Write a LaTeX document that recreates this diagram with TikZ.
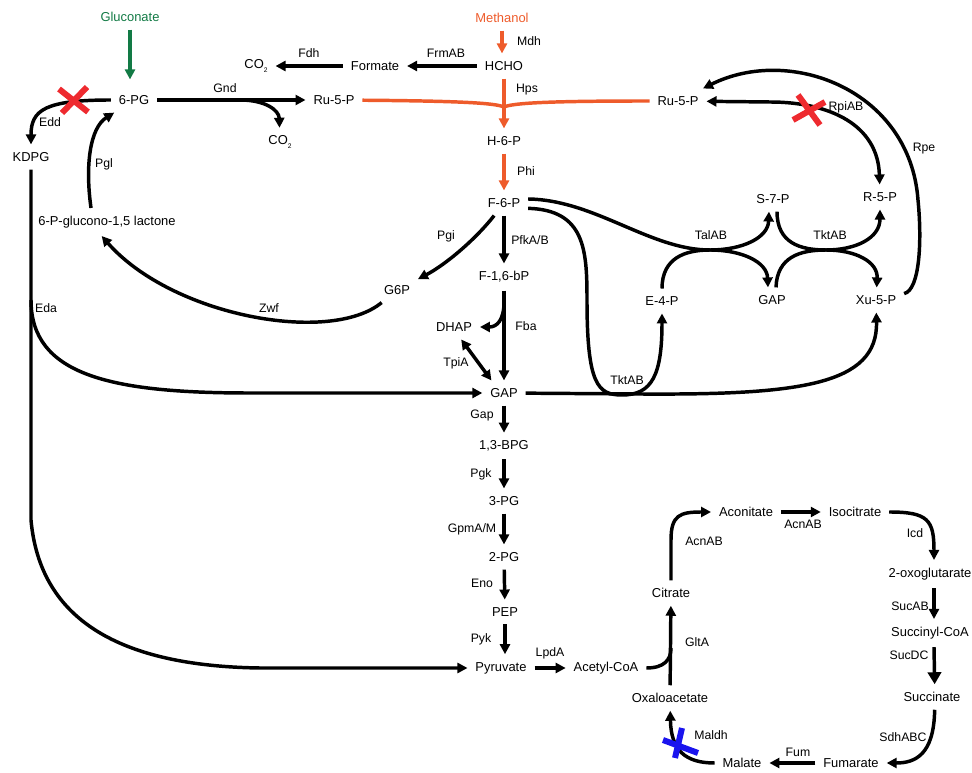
\documentclass[tikz,border=0pt]{standalone}
\usepackage{fontspec}
\setmainfont{Liberation Sans}
\usepackage{xcolor}
\usepackage{tikz}
\usetikzlibrary{arrows.meta}

\definecolor{mOrange}{HTML}{EE5B2B}
\definecolor{gGreen}{HTML}{127A45}
\definecolor{koRed}{HTML}{EE2A2F}
\definecolor{koBlue}{HTML}{1A14EE}

\newcommand{\cotwo}{CO\raisebox{-0.5ex}{\fontsize{5}{5}\selectfont 2}}

\begin{document}
\begin{tikzpicture}[x=0.75pt,y=-0.75pt,line width=2.6pt]
        \tikzset{met/.style={font=\fontsize{9.7}{11}\selectfont, inner sep=3pt, outer sep=3pt},
                 enz/.style={font=\fontsize{9.2}{10}\selectfont, inner sep=0pt},
                 rx/.style={-{Triangle[length=7.5pt,width=7.5pt]}},
                 rxx/.style={{Triangle[length=7.5pt,width=7.5pt]}-{Triangle[length=7.5pt,width=7.5pt]}},
                 ko/.style={line width=4.5pt}}
        \useasboundingbox (0,0) rectangle (972,773);

	%---NODES---
        \node[met, text=gGreen] (1) at (130,17) {Gluconate};
        \node[met, text=mOrange] (2) at (502,18) {Methanol};
        \node[met] (3) at (256,66) {\cotwo};
        \node[met] (4) at (375,66) {Formate};
        \node[met] (5) at (504,66) {HCHO};
        \node[met] (6) at (134,100) {6-PG};
        \node[met] (7) at (334,100) {Ru-5-P};
        \node[met] (8) at (678,101) {Ru-5-P};
        \node[met] (9) at (280,142) {\cotwo};
        \node[met] (10) at (31,157) {KDPG};
        \node[met] (11) at (504,141) {H-6-P};
        \node[met] (12) at (504,203) {F-6-P};
        \node[met] (13) at (773,199) {S-7-P};
        \node[met] (14) at (880,197) {R-5-P};
        \node[met] (15) at (107,222) {6-P-glucono-1,5 lactone};
        \node[met] (16) at (504,277) {F-1,6-bP};
        \node[met] (17) at (397,290) {G6P};
        \node[met] (18) at (662,301) {E-4-P};
        \node[met] (19) at (772,300) {GAP};
        \node[met] (20) at (876,300) {Xu-5-P};
        \node[met] (21) at (454,327) {DHAP};
        \node[met] (22) at (504,393) {GAP};
        \node[met] (23) at (504,446) {1,3-BPG};
        \node[met] (24) at (504,501) {3-PG};
        \node[met] (25) at (504,557) {2-PG};
        \node[met] (26) at (505,612) {PEP};
        \node[met] (27) at (501,668) {Pyruvate};
        \node[met] (28) at (606,668) {Acetyl-CoA};
        \node[met] (29) at (746,512) {Aconitate};
        \node[met] (30) at (855,512) {Isocitrate};
        \node[met] (31) at (930,574) {2-oxoglutarate};
        \node[met] (32) at (671,593) {Citrate};
        \node[met] (33) at (930,633) {Succinyl-CoA};
        \node[met] (34) at (932,697) {Succinate};
        \node[met] (35) at (670,698) {Oxaloacetate};
        \node[met] (36) at (742,763) {Malate};
        \node[met] (37) at (851,763) {Fumarate};

        \coordinate (g1) at (240,100);
        \coordinate (h1) at (504,107);
        \coordinate (e1) at (31,300);
        \coordinate (f1) at (504,302);
        \coordinate (t1) at (710,250);
        \coordinate (t2) at (826,250);
        \coordinate (c1) at (671,648);

	%---EDGES---
        \draw[rx, gGreen, shorten >=6pt]   (1) -- (1 |- 6.north) ;
        \draw[rx, mOrange]   (2) -- (2 |- 5.north) ;
        \draw[rx]   (5) -- (4) ;
        \draw[rx]   (4) -- (3) ;
        \draw[rx]   (6) -- (7) ;
        \draw[rx]   (g1) .. controls (265,100) and (279,110) .. (9) ;
        \draw[mOrange]   (7) .. controls (460,101) and (495,103) .. (h1) ;
        \draw[mOrange]   (8) .. controls (548,101) and (513,103) .. (h1) ;
        \draw[rx, mOrange]   (5) -- (11) ;
        \draw[rx, mOrange]   (11) -- (12) ;

        \draw[rx]   (6) .. controls (45,100) and (31,110) .. (10) ;
        \draw[rx]   ([xshift=-12pt]15.north) .. controls (85,165) and (90,128) .. (6) ;
        \draw[rx]   (17) .. controls (330,345) and (172,316) .. ([xshift=-4pt]15.south) ;
        \draw[rx]   (12) .. controls (475,240) and (445,265) .. (17) ;

        \draw[rx]   (12) -- (16) ;
        \draw[rx]   (16) -- (22) ;
        \draw[rx]   (f1) .. controls (504,320) and (497,327) .. (21) ;
        \draw[rxx]   (21.-60) -- (22.135) ;

        \draw[rx]   (18) .. controls (662,258) and (685,250) .. (t1) .. controls (742,250) and (767,262) .. ([xshift=-3pt]19.north) ;
        \draw[rx]   ([yshift=3pt]12.east) .. controls (595,200) and (650,250) .. (t1) .. controls (742,250) and (768,238) .. ([xshift=-3pt]13.south) ;
        \draw[rx]   ([xshift=3pt]13.south) .. controls (777,243) and (800,250) .. (t2) .. controls (856,250) and (878,262) .. (20) ;
        \draw[rx]   ([xshift=3pt]19.north) .. controls (777,257) and (800,250) .. (t2) .. controls (856,250) and (880,238) .. (14) ;
        \draw[rxx]   (8) -- (770,102) .. controls (830,102) and (878,125) .. (14) ;
        \draw[rx]   (20) .. controls (920,290) and (922,240) .. (918,200) .. controls (910,90) and (790,45) .. (8) ;

        \draw[rx]   ([yshift=-4pt]12.east) .. controls (585,210) and (587,250) .. (587,300) .. controls (587,385) and (598,395) .. (622,395) .. controls (652,395) and (662,375) .. (18) ;
        \draw[rx]   (22) -- (640,394) .. controls (800,395) and (878,385) .. (20) ;

        \draw[rx]   (10) -- (31,520) .. controls (40,620) and (120,666) .. (260,668) -- (27) ;
        \draw[rx]   (e1) .. controls (31,375) and (110,393) .. (250,393) -- (22) ;

        \draw[rx]   (22) -- (23) ;
        \draw[rx]   (23) -- (24) ;
        \draw[rx]   (24) -- (25) ;
        \draw[rx]   (25) -- (26) ;
        \draw[rx]   (26) -- (26 |- 27.north) ;
        \draw[rx]   (27) -- (28) ;

        \draw[rx]   (35) -- (32) ;
        \draw   (28) .. controls (664,668) and (671,660) .. (c1) ;
        \draw[rx]   (32) -- (671,540) .. controls (671,515) and (680,512) .. (29) ;
        \draw[rx]   (29) -- (30) ;
        \draw[rx]   (30) .. controls (928,512) and (934,520) .. ([xshift=3pt]31.north) ;
        \draw[rx]   ([xshift=3pt]31.south) -- ([xshift=3pt]33.north) ;
        \draw[-{Triangle[length=9pt,width=10pt]}]   ([xshift=3pt]33.south) -- ([xshift=2pt]34.north) ;
        \draw[rx]   ([xshift=2pt]34.south) .. controls (934,755) and (915,763) .. (37) ;
        \draw[rx]   (37) -- (36) ;
        \draw[rx]   (36) .. controls (685,763) and (671,750) .. (35) ;

	%---KNOCKOUTS---
        \coordinate (x1) at (74,100);
        \coordinate (x2) at (809,110);
        \coordinate (x3) at (679,743);
        \draw[ko, koRed]   ([shift={(-15,-11)}]x1) -- ([shift={(14,12)}]x1) ([shift={(-12,13)}]x1) -- ([shift={(13,-13)}]x1) ;
        \draw[ko, koRed]   ([shift={(-16,10)}]x2) -- ([shift={(16,-8)}]x2) ([shift={(-11,-15)}]x2) -- ([shift={(11,15)}]x2) ;
        \draw[ko, koBlue]   ([shift={(-16,-3)}]x3) -- ([shift={(19,10)}]x3) ([shift={(3,-15)}]x3) -- ([shift={(-4,15)}]x3) ;

	%---LABELS---
        \node[enz] (a1) at (529,41) {Mdh};
        \node[enz] (a2) at (446,53) {FrmAB};
        \node[enz] (a3) at (309,53) {Fdh};
        \node[enz] (a4) at (527,90) {Hps};
        \node[enz] (a5) at (225,88) {Gnd};
        \node[enz] (a6) at (526,171) {Phi};
        \node[enz] (a7) at (50,122) {Edd};
        \node[enz] (a8) at (104,164) {Pgl};
        \node[enz] (a9) at (846,107) {RpiAB};
        \node[enz] (a10) at (924,149) {Rpe};
        \node[enz] (a11) at (446,236) {Pgi};
        \node[enz] (a12) at (530,240) {PfkA/B};
        \node[enz] (a13) at (711,235) {TalAB};
        \node[enz] (a14) at (830,235) {TktAB};
        \node[enz] (a15) at (46,308) {Eda};
        \node[enz] (a16) at (269,308) {Zwf};
        \node[enz] (a17) at (526,326) {Fba};
        \node[enz] (a18) at (456,363) {TpiA};
        \node[enz] (a19) at (627,380) {TktAB};
        \node[enz] (a20) at (482,415) {Gap};
        \node[enz] (a21) at (481,474) {Pgk};
        \node[enz] (a22) at (472,529) {GpmA/M};
        \node[enz] (a23) at (482,583) {Eno};
        \node[enz] (a24) at (481,639) {Pyk};
        \node[enz] (a25) at (550,653) {LpdA};
        \node[enz] (a26) at (704,541) {AcnAB};
        \node[enz] (a27) at (803,524) {AcnAB};
        \node[enz] (a28) at (915,533) {Icd};
        \node[enz] (a29) at (697,642) {GltA};
        \node[enz] (a30) at (910,606) {SucAB};
        \node[enz] (a31) at (909,655) {SucDC};
        \node[enz] (a32) at (711,735) {Maldh};
        \node[enz] (a33) at (903,737) {SdhABC};
        \node[enz] (a34) at (798,752) {Fum};

    \end{tikzpicture}
\end{document}
